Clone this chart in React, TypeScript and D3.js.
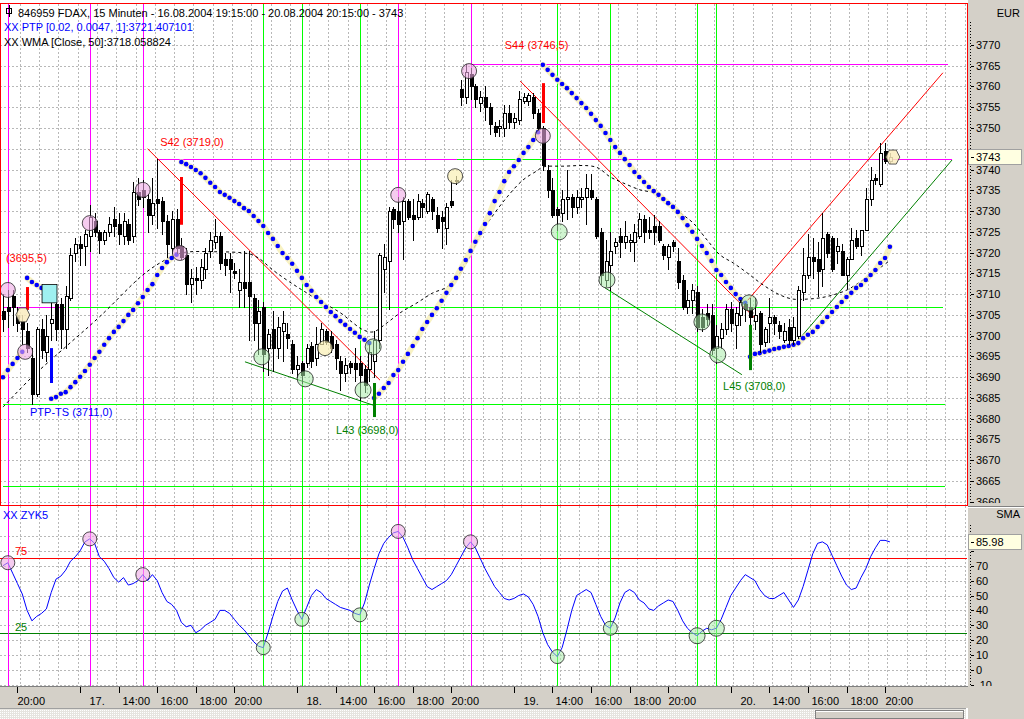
import React from 'react';
import * as d3 from 'd3';

const FONT = "'Liberation Sans', Arial, Helvetica, sans-serif";

// 15-minute bars FDAX 16.08.2004 19:15 .. 20.08.2004 20:15 : [open, high, low, close]
const ohlc: number[][] = [
  [3706, 3710, 3701, 3704], [3707, 3711, 3702, 3706], [3709.5, 3711, 3702.5, 3707], [3705, 3707, 3701, 3703],
  [3703.5, 3705, 3698, 3701.5], [3701, 3703, 3696, 3697], [3694.5, 3697, 3683.5, 3686], [3686, 3702, 3685.5, 3701.5],
  [3701.5, 3704, 3694.5, 3696.5], [3696, 3705, 3694, 3700], [3703, 3711, 3699, 3704], [3707.5, 3709.5, 3699, 3701.5],
  [3707.5, 3709, 3697, 3701.5], [3701.5, 3712, 3697, 3709.5], [3709, 3721, 3708.5, 3719.5], [3720, 3723.5, 3718, 3722],
  [3722, 3724, 3717, 3721], [3721.5, 3725.5, 3717, 3724.5], [3724, 3731.5, 3720.5, 3728.5], [3727.5, 3729.5, 3724, 3725],
  [3725, 3725.5, 3720, 3723], [3723, 3725.5, 3722, 3725], [3725, 3728.5, 3724, 3727], [3728, 3731, 3724, 3726.5],
  [3727, 3729.5, 3722, 3724.5], [3724, 3729.5, 3722, 3727.5], [3727, 3728, 3722, 3723], [3724, 3737, 3722.5, 3734.5],
  [3734.5, 3738, 3731.5, 3733], [3735, 3737.5, 3731, 3733.5], [3733, 3734, 3725, 3729], [3729, 3738, 3727, 3732],
  [3733, 3742.5, 3726, 3732], [3732.5, 3733.5, 3724.5, 3727.5], [3727.5, 3729, 3719, 3722], [3721, 3730, 3720, 3728],
  [3728, 3730.5, 3720, 3721], [3721.5, 3723.5, 3718.5, 3719], [3719.5, 3721, 3710, 3712.5], [3712.5, 3716, 3708, 3714],
  [3714, 3716.5, 3710, 3713.5], [3713.5, 3718.5, 3711.5, 3716.5], [3716, 3721, 3714, 3720], [3720.5, 3725, 3719, 3723],
  [3722.5, 3728, 3721, 3724], [3724, 3725, 3716, 3717.5], [3718.5, 3720, 3714.5, 3717], [3718.5, 3720, 3710.5, 3716],
  [3715.5, 3717.5, 3714, 3715], [3711, 3716, 3707, 3713], [3713, 3720.5, 3707, 3711.5], [3713, 3720.5, 3699, 3709.5],
  [3709, 3710, 3699, 3703], [3703, 3708.5, 3695.5, 3706], [3707, 3708, 3691.5, 3695.5], [3697, 3701.5, 3690.5, 3700.5],
  [3701.5, 3706, 3691.5, 3697], [3697, 3704.5, 3694.5, 3702], [3701, 3706, 3694, 3703], [3700.5, 3703, 3697, 3699.5],
  [3698, 3699, 3691, 3692], [3692, 3695, 3690, 3693], [3693.5, 3694, 3688.5, 3690.5], [3693.5, 3698, 3692.5, 3697],
  [3697.5, 3698.5, 3692.5, 3694], [3694.5, 3702, 3693, 3698], [3698, 3703, 3698, 3701.5], [3701, 3701.5, 3698, 3698.5],
  [3700, 3701, 3696, 3697], [3698, 3699, 3692, 3694.5], [3694, 3695, 3687, 3691], [3691, 3694.5, 3689, 3693],
  [3693.5, 3694, 3691, 3692.5], [3693.5, 3697, 3689, 3692], [3693.5, 3695, 3684.5, 3690.5], [3692, 3693, 3686.5, 3688],
  [3692, 3698, 3689, 3696], [3694, 3701, 3690, 3699], [3699, 3720, 3697, 3719.5], [3716, 3722, 3710.5, 3719],
  [3718, 3731, 3706.5, 3730], [3730.5, 3731, 3726, 3728], [3730, 3733.5, 3725, 3727], [3727.5, 3733.5, 3718.5, 3732.5],
  [3732.5, 3733, 3728, 3728.5], [3729, 3733, 3723, 3728], [3728.5, 3734, 3728, 3732.5], [3732, 3733, 3728.5, 3731],
  [3730, 3734.5, 3729.5, 3734], [3733, 3733.5, 3728, 3730], [3729, 3731, 3725, 3726], [3728.5, 3730, 3721, 3727.5],
  [3726, 3732, 3722, 3731], [3732.5, 3737.5, 3731, 3731.5], [3737.5, 3738.5, 3736.5, 3737.5], [3759.5, 3761.5, 3755.5, 3757.5],
  [3757.5, 3765.5, 3756, 3763.5], [3763, 3764.5, 3757, 3760], [3760, 3760.5, 3755, 3757], [3756, 3759, 3754, 3757.5],
  [3757.5, 3760, 3752, 3755], [3755, 3756, 3748.5, 3751], [3750.5, 3751.5, 3748, 3749], [3750, 3752, 3748, 3750.5],
  [3750, 3755.5, 3748, 3753.5], [3753.5, 3755.5, 3750, 3751.5], [3751.5, 3753.5, 3750, 3752.5], [3752, 3759, 3751, 3757],
  [3756.5, 3758.5, 3756, 3757.5], [3756.5, 3758.5, 3755.5, 3758], [3757.5, 3758.5, 3752.5, 3753.5], [3753.5, 3754.5, 3749.5, 3750],
  [3750, 3750.5, 3740, 3741], [3740, 3741, 3733.5, 3735], [3735, 3738, 3728.5, 3729], [3730.5, 3731, 3725.5, 3729],
  [3729.5, 3735, 3727.5, 3733], [3733, 3740, 3728, 3733.5], [3733.5, 3734, 3728.5, 3731], [3731, 3735, 3729.5, 3733.5],
  [3733, 3735.5, 3731, 3733.5], [3733.5, 3739, 3727, 3735.5], [3735, 3739, 3733, 3733.5], [3733, 3733.5, 3723.5, 3724],
  [3725, 3726, 3712.5, 3714.5], [3713.5, 3723, 3712, 3718], [3717, 3725, 3711, 3720.5], [3721.5, 3723.5, 3720, 3722.5],
  [3724, 3726, 3719, 3722.5], [3722.5, 3727.5, 3721, 3724], [3722.5, 3724.5, 3720.5, 3723], [3722.5, 3727, 3718, 3725],
  [3724, 3729.5, 3723.5, 3728], [3728, 3729, 3722.5, 3725], [3725.5, 3728.5, 3723.5, 3725], [3726.5, 3729, 3722, 3725],
  [3726.5, 3727.5, 3722.5, 3723], [3721.5, 3722, 3718.5, 3719.5], [3719, 3722, 3716, 3721.5], [3722.5, 3723, 3720.5, 3721.5],
  [3718, 3721, 3711.5, 3713], [3713.5, 3714.5, 3706.5, 3707], [3707, 3711, 3705.5, 3708.5], [3708.5, 3712.5, 3705.5, 3711],
  [3710.5, 3712, 3701, 3702], [3704.5, 3706.5, 3701, 3702], [3705.5, 3707.5, 3702.5, 3704], [3705, 3707.5, 3695.5, 3696.5],
  [3697, 3702.5, 3693.5, 3700], [3699.5, 3703, 3697, 3701.5], [3701.5, 3707.5, 3700.5, 3706.5], [3706.5, 3708, 3701, 3703],
  [3702.5, 3707, 3697, 3705.5], [3705, 3708.5, 3702.5, 3708], [3707.5, 3707.8, 3703.5, 3706.5], [3707, 3709, 3702.5, 3704.5],
  [3703.5, 3709, 3701.5, 3705], [3705.5, 3706, 3696, 3698], [3698.5, 3702, 3697.5, 3701.5], [3703, 3709, 3698.5, 3704.5],
  [3704.5, 3705, 3700.5, 3703], [3702.5, 3703.5, 3699.5, 3701], [3699, 3703, 3698.5, 3701], [3702, 3704, 3698, 3699],
  [3699, 3704.5, 3698, 3702], [3700, 3712, 3699.5, 3711], [3710.5, 3721, 3708.5, 3714.5], [3714.5, 3724.5, 3714, 3719],
  [3719, 3723.5, 3714, 3718], [3718.5, 3722.5, 3709.5, 3715.5], [3716, 3729.5, 3712, 3723.5], [3724.5, 3725, 3719, 3720],
  [3723.5, 3724, 3715.5, 3716], [3720.5, 3723.5, 3717.5, 3721.5], [3720.5, 3722, 3714.5, 3714.5], [3714.5, 3719, 3711.5, 3718.5],
  [3718.5, 3726, 3718.5, 3723], [3723.5, 3725.5, 3721, 3721.5], [3721.5, 3725.5, 3719.5, 3725.5], [3725.5, 3735.5, 3725.5, 3733],
  [3733, 3740.5, 3731.5, 3737.5], [3738, 3739, 3736.5, 3737.5], [3736.5, 3746.5, 3736, 3744], [3744.5, 3746.5, 3741.5, 3742],
  [3742, 3744, 3741.5, 3743],
];

// PTP trailing stop, one value per bar; the side flips at the bars listed in ptpFlips
const ptpStop: number[] = [
  3690, 3691.7, 3693.2, 3694.6, 3696.1,
  3713.9, 3712.9, 3712.2, 3711.5, 3710.7,
  3684.8, 3685.2, 3686.0, 3686.4, 3687.6, 3688.8, 3690.1, 3691.5, 3693.0, 3694.6, 3696.1, 3697.8, 3699.4, 3700.9,
  3702.1, 3703.5, 3705.0, 3706.2, 3707.8, 3709.3, 3711.0, 3712.4, 3714.6, 3716.3, 3717.7, 3718.7, 3719.5,
  3741.8, 3741.3, 3740.6, 3739.9, 3739.1, 3738.0, 3736.8, 3735.8, 3734.6, 3733.9, 3733.2, 3732.4, 3731.7, 3730.7,
  3730.0, 3728.8, 3727.6, 3726.4, 3724.7, 3723.3, 3721.6, 3719.9, 3718.7, 3717.3, 3715.6, 3713.9, 3712.2, 3710.8,
  3709.3, 3708.1, 3706.9, 3705.7, 3704.7, 3703.5, 3702.6, 3701.6, 3700.7, 3699.7, 3699.0, 3698.2,
  3685.0, 3686.0, 3687.4, 3688.6, 3690.5, 3691.7, 3693.7, 3695.6, 3697.5, 3699.4, 3701.6, 3703.3, 3705.0, 3706.6,
  3708.4, 3710.3, 3712.2, 3713.9, 3716.1, 3718.2, 3720.4, 3722.6, 3724.7, 3726.9, 3729.5, 3732.4, 3734.6, 3737.2,
  3739.4, 3740.8, 3742.3, 3744.0, 3745.4, 3747.1, 3749.0,
  3765.2, 3764.0, 3762.8, 3761.6, 3760.6, 3759.6, 3758.4, 3757.2, 3756.0, 3754.8, 3753.4, 3751.9, 3750.5, 3748.8,
  3747.1, 3745.4, 3744.0, 3742.5, 3741.1, 3739.4, 3738.2, 3737.0, 3735.8, 3734.8, 3733.9, 3732.9, 3731.9, 3731.0,
  3729.8, 3728.3, 3726.6, 3725.0, 3723.3, 3721.6, 3719.9, 3718.0, 3715.8, 3714.6, 3712.9, 3711.5, 3710.0, 3708.8, 3707.9,
  3694.9, 3695.6, 3695.8, 3696.1, 3696.4, 3696.8, 3697.0, 3697.3, 3697.5, 3697.8, 3698.2, 3699.4, 3700.2, 3700.9,
  3702.1, 3703.3, 3704.5, 3705.7, 3706.9, 3708.1, 3709.3, 3710.3, 3711.5, 3712.2, 3713.4, 3714.6, 3715.8, 3717.5,
  3718.7, 3721.4,
];
const ptpFlips = [5, 10, 37, 77, 112, 155];

// WMA(Close, 50): [bar, value]
const wmaPoints: number[][] = [
  [0, 3682.8], [6, 3690], [13, 3697.3], [20, 3704.5], [29, 3714.6], [33, 3717.8], [37, 3719.9], [44, 3720.2],
  [51, 3719.7], [53, 3718.7], [56, 3715.8], [59.5, 3712.9], [63, 3710.3], [66.4, 3707.9], [70, 3705.5], [72.6, 3703.1],
  [74.7, 3701.4], [76.8, 3700.9], [79.7, 3703.1], [82.4, 3705.5], [85.9, 3707.9], [89.2, 3710.3], [92.1, 3711.7],
  [94.8, 3715.1], [96.9, 3719.0], [99, 3724.3], [101, 3727.9], [104.6, 3733.4], [107.9, 3737.5], [110.8, 3739.7],
  [112, 3740.6], [116, 3740.8], [123, 3740.6], [126, 3738.2], [128.6, 3736.8], [132.2, 3735.1], [134.9, 3734.4],
  [137.8, 3732.2], [140.5, 3729.6], [143.2, 3727.1], [146.1, 3723.0], [148.8, 3719.4], [151.5, 3717.5], [154.4, 3715.1],
  [157.7, 3712.2], [161.2, 3709.8], [163.9, 3708.8], [166.8, 3708.8], [169.5, 3709.1], [172.2, 3709.8], [175.1, 3711.0],
  [177.8, 3712.9], [180.5, 3715.1], [184, 3718.1],
];

// ZYK5 oscillator, one value per bar
const zyk5: number[] = [
  70, 72, 65, 58, 51, 40, 33, 36, 38, 41, 52, 61, 63, 67, 73, 76, 80, 86, 88, 85,
  76, 73, 68, 62, 59, 62, 57, 58, 60, 64, 60, 64, 60, 52, 46, 44, 40, 32, 29, 30,
  25, 27, 30, 32, 34, 40, 40, 38, 34, 30, 27, 23, 19, 16, 15, 25, 36, 46, 53, 55,
  47, 40, 34, 42, 50, 54, 52, 48, 46, 44, 42, 41, 40, 38, 37, 45, 57, 68, 78, 85,
  89, 92, 93, 89, 82, 74, 68, 62, 56, 54, 56, 58, 60, 64, 70, 76, 82, 86, 82, 75,
  68, 62, 56, 52, 48, 47, 48, 50, 51, 49, 44, 36, 25, 17, 12, 9, 15, 27, 40, 50,
  52, 54, 52, 44, 36, 30, 28, 35, 45, 52, 54, 52, 47, 45, 41, 40, 43, 45, 47, 46,
  40, 33, 28, 25, 23, 26, 28, 27, 28, 34, 42, 50, 55, 60, 64, 62, 60, 54, 50, 48,
  48, 50, 52, 47, 42, 47, 56, 67, 78, 85, 86, 84, 77, 70, 63, 57, 54, 55, 62, 68,
  76, 82, 87, 87, 86,
];

const magentaCycles = [1, 18, 29, 82, 97];
const greenCycles = [54, 62, 74, 115, 126, 144, 148];

const priceTicks = d3.range(3660, 3775, 5);
const oscTicks = d3.range(-10, 95, 10);
const timeTickBars = [3, 16, 24, 32, 40, 48, 61, 69, 77, 85, 93, 106, 114, 122, 130, 138, 151, 159, 167, 175, 183];
const timeTickLabels = ['20:00', '17.', '14:00', '16:00', '18:00', '20:00', '18.', '14:00', '16:00', '18:00', '20:00',
  '19.', '14:00', '16:00', '18:00', '20:00', '20.', '14:00', '16:00', '18:00', '20:00'];

// trend lines [bar1, price1, bar2, price2]
const redTrend = [[30, 3745, 78.2, 3689.3], [107.3, 3761.3, 156, 3704.2], [154.5, 3708.5, 195, 3763.3]];
const greenTrend = [[50.2, 3693.7, 77.2, 3683.1], [124.9, 3711.5, 153.3, 3690.6], [164.7, 3698.5, 196.9, 3742.3]];
// level lines [price, fromBar, toBar, kind]
const levelLines: [number, number, number, string][] = [
  [3742.5, 32, 196.9, 'm'], [3765.5, 97.3, 196, 'm'], [3707, 0, 12.2, 'm'], [3707, 12.2, 195, 'g'],
  [3742.5, 94.2, 112, 'g'], [3683.5, 0, 195.5, 'g'], [3663.7, 0, 195.5, 'g'], [3707, 144, 155, 'm'],
];
// signal bars [bar, price1, price2, kind]
const signalBars: [number, number, number, string][] = [
  [5, 3711.7, 3706.2, 'S'], [10, 3697, 3688.6, 'T'], [37, 3738.2, 3726.7, 'S'],
  [77, 3688.6, 3680.4, 'L'], [112, 3760.8, 3751.2, 'S'], [155, 3702.6, 3691.7, 'L'],
];
const signalLabels: [string, number, number, string][] = [
  ['(3695,5)', 0.6, 3717.7, 'S'], ['PTP-TS (3711,0)', 5.6, 3680.7, 'T'], ['S42 (3719,0)', 32.6, 3745.7, 'S'],
  ['L43 (3698,0)', 69.1, 3676.3, 'L'], ['S44 (3746,5)', 104.1, 3769.0, 'S'], ['L45 (3708,0)', 149.4, 3686.9, 'L'],
];
// markers on the price panel [bar, price, kind]
const priceMarkers: [number, number, string][] = [
  [1, 3711, 'hi'], [4.6, 3696.1, 'hi'], [18, 3727.1, 'hi'], [29, 3735.1, 'hi'], [36.7, 3719.9, 'hi'],
  [82, 3733.9, 'hi'], [96.7, 3763.7, 'hi'], [112, 3748.1, 'hi'],
  [53.7, 3694.9, 'lo'], [62.7, 3689.6, 'lo'], [74.7, 3686.9, 'lo'], [76.8, 3697.3, 'lo'], [115.4, 3725, 'lo'],
  [125.3, 3713.4, 'lo'], [145, 3703.3, 'lo'], [148.3, 3695.4, 'lo'], [154.8, 3707.9, 'lo'],
  [66.8, 3697, 'mid'], [93.8, 3738.4, 'mid'], [4.1, 3705, 'dia'], [184.6, 3743, 'dia'],
];
const cyanBox = [8.1, 3712.3, 11.2, 3707.9];

const lastPrice = 3743;
const lastOsc = 85.98;

const BG_GRAY = '#d4d0c8';
const MAG = '#ff00ff';
const LIME = '#00ff00';
const RED = '#ff0000';
const DKGREEN = '#008000';
const BLUE = '#0000ff';
const kindColor: Record<string, string> = { S: RED, T: BLUE, L: DKGREEN, m: MAG, g: LIME };

export default function App() {
  const x = d3.scaleLinear().domain([0, 184]).range([3, 3 + 184 * 4.82]);
  const yP = d3.scaleLinear().domain([3665, 3765]).range([481, 65.7]);
  const yO = d3.scaleLinear().domain([0, 70]).range([670, 565.7]);

  const gridBars = d3.range(3.5, 200, 4);
  const segStarts = [0, ...ptpFlips];
  const segments = segStarts.map((s, k) => {
    const e = k + 1 < segStarts.length ? segStarts[k + 1] : ptpStop.length;
    return d3.range(s, e).map((i) => [i, ptpStop[i]]);
  });
  const ptpLine = d3.line<number[]>().x((d) => x(d[0])).y((d) => yP(d[1]));
  const wmaLine = d3.line<number[]>().x((d) => x(d[0])).y((d) => yP(d[1])).curve(d3.curveCatmullRom);
  const oscLine = d3.line<number>().x((_, i) => x(i)).y((d) => yO(d));

  const markerFill: Record<string, string> = {
    hi: 'rgba(238,170,228,0.6)', lo: 'rgba(170,235,170,0.55)', mid: 'rgba(250,240,180,0.7)', dia: 'rgba(250,236,190,0.85)',
  };

  const pBoxY = Math.round(yP(lastPrice)) - 7.5;
  const oBoxY = Math.round(yO(lastOsc)) - 7.5;
  // axis labels that would sit under the last-value boxes are left out; the box shows the value there
  const visiblePriceTicks = priceTicks.filter((v) => Math.abs(yP(v) - yP(lastPrice)) > 11);
  const visibleOscTicks = oscTicks.filter((v) => Math.abs(yO(v) - yO(lastOsc)) > 11);

  return (
    <div style={{ position: 'absolute', left: 0, top: 0 }}>
      <svg width={1024} height={719} style={{ display: 'block', fontFamily: FONT }}>
        <defs>
          <clipPath id="pclip"><rect x={1} y={4} width={966} height={501} /></clipPath>
          <clipPath id="oclip"><rect x={0} y={506} width={967} height={180} /></clipPath>
          <clipPath id="paxis"><rect x={968} y={21} width={56} height={482} /></clipPath>
          <clipPath id="oaxis"><rect x={968} y={524} width={56} height={162} /></clipPath>
          <pattern id="hatch" width="2" height="2" patternUnits="userSpaceOnUse">
            <rect width="2" height="2" fill="#e6e4df" />
            <rect width="1" height="1" fill="#ffffff" />
          </pattern>
        </defs>
        <rect x={0} y={0} width={1024} height={719} fill="#fff" />

        {/* grid price panel */}
        <g clipPath="url(#pclip)" stroke="#b8b8b8" strokeDasharray="2,2" shapeRendering="crispEdges">
          {priceTicks.map((v) => (
            <line key={'hp' + v} x1={0} x2={967} y1={Math.round(yP(v)) + 0.5} y2={Math.round(yP(v)) + 0.5} />
          ))}
          {gridBars.map((b) => (
            <line key={'vp' + b} x1={Math.round(x(b)) + 0.5} x2={Math.round(x(b)) + 0.5} y1={4} y2={505} />
          ))}
        </g>
        {/* grid oscillator panel */}
        <g clipPath="url(#oclip)" stroke="#b8b8b8" strokeDasharray="2,2" shapeRendering="crispEdges">
          {oscTicks.map((v) => (
            <line key={'ho' + v} x1={0} x2={967} y1={Math.round(yO(v)) + 0.5} y2={Math.round(yO(v)) + 0.5} />
          ))}
          {gridBars.map((b) => (
            <line key={'vo' + b} x1={Math.round(x(b)) + 0.5} x2={Math.round(x(b)) + 0.5} y1={506} y2={686} />
          ))}
        </g>

        {/* oscillator bands */}
        <g shapeRendering="crispEdges">
          <line x1={0} x2={967} y1={Math.round(yO(75)) + 0.5} y2={Math.round(yO(75)) + 0.5} stroke={RED} />
          <line x1={0} x2={967} y1={Math.round(yO(25)) + 0.5} y2={Math.round(yO(25)) + 0.5} stroke={DKGREEN} />
        </g>

        {/* cycle vertical lines */}
        <g shapeRendering="crispEdges">
          {magentaCycles.map((b) => (
            <line key={'mc' + b} x1={Math.round(x(b)) + 0.5} x2={Math.round(x(b)) + 0.5} y1={3} y2={686} stroke={MAG} />
          ))}
          {greenCycles.map((b) => (
            <line key={'gc' + b} x1={Math.round(x(b)) + 0.5} x2={Math.round(x(b)) + 0.5} y1={3} y2={686} stroke={LIME} />
          ))}
        </g>

        <g clipPath="url(#pclip)">
          {/* level lines */}
          <g shapeRendering="crispEdges">
            {levelLines.map((l, k) => (
              <line key={'lv' + k} x1={x(l[1])} x2={x(l[2])} y1={Math.round(yP(l[0])) + 0.5} y2={Math.round(yP(l[0])) + 0.5}
                stroke={kindColor[l[3]]} />
            ))}
          </g>
          {/* trend lines */}
          {redTrend.map((t, k) => (
            <line key={'rt' + k} x1={x(t[0])} y1={yP(t[1])} x2={x(t[2])} y2={yP(t[3])} stroke={RED} strokeWidth={1} />
          ))}
          {greenTrend.map((t, k) => (
            <line key={'gt' + k} x1={x(t[0])} y1={yP(t[1])} x2={x(t[2])} y2={yP(t[3])} stroke={DKGREEN} strokeWidth={1} />
          ))}
          {/* WMA */}
          <path d={wmaLine(wmaPoints) || ''} fill="none" stroke="#000" strokeWidth={1} strokeDasharray="3,3" />
          {/* PTP halo + dots */}
          {segments.map((s, k) => (
            <path key={'ph' + k} d={ptpLine(s) || ''} fill="none" stroke="#f6efb4" strokeWidth={6} strokeLinecap="round" opacity={0.8} />
          ))}
          {ptpStop.map((v, i) => (
            <circle key={'pd' + i} cx={x(i)} cy={yP(v)} r={2.3} fill={BLUE} />
          ))}
          {/* candles */}
          {ohlc.map((d, i) => {
            const [o, h, l, c] = d;
            const cx = Math.round(x(i)) + 0.5;
            const up = c >= o;
            const top = Math.round(yP(Math.max(o, c))) + 0.5;
            const bot = Math.round(yP(Math.min(o, c))) + 0.5;
            return (
              <g key={'c' + i} shapeRendering="crispEdges">
                <line x1={cx} x2={cx} y1={Math.round(yP(h))} y2={Math.round(yP(l)) + 1} stroke="#000" />
                <rect x={cx - 1.5} y={top} width={3} height={Math.max(1, bot - top)} fill={up ? '#fff' : '#000'} stroke="#000" />
              </g>
            );
          })}
          {/* signal bars */}
          {signalBars.map((s, k) => (
            <rect key={'sb' + k} x={Math.round(x(s[0])) - 1} y={yP(s[1])} width={3} height={yP(s[2]) - yP(s[1])} fill={kindColor[s[3]]} />
          ))}
          {/* cyan box */}
          <rect x={x(cyanBox[0])} y={yP(cyanBox[1])} width={x(cyanBox[2]) - x(cyanBox[0])} height={yP(cyanBox[3]) - yP(cyanBox[1])}
            fill="#9ff0f0" stroke="#000" strokeWidth={0.8} />
          {/* markers */}
          {priceMarkers.map((m, k) => {
            const cx = x(m[0]);
            const cy = yP(m[1]);
            if (m[2] === 'dia') {
              const r = 7;
              return (
                <polygon key={'pm' + k} points={`${cx - r},${cy} ${cx - r / 2},${cy - r} ${cx + r / 2},${cy - r} ${cx + r},${cy} ${cx + r / 2},${cy + r} ${cx - r / 2},${cy + r}`}
                  fill={markerFill.dia} stroke="#333" strokeWidth={0.8} />
              );
            }
            const r = m[2] === 'lo' ? 8 : 7.5;
            return <circle key={'pm' + k} cx={cx} cy={cy} r={r} fill={markerFill[m[2]]} stroke="#222" strokeWidth={0.8} />;
          })}
          {/* labels */}
          {signalLabels.map((s, k) => (
            <text key={'sl' + k} x={x(s[1])} y={yP(s[2])} fontSize={11} fill={kindColor[s[3]]}>{s[0]}</text>
          ))}
        </g>

        {/* oscillator */}
        <g clipPath="url(#oclip)">
          <path d={oscLine(zyk5) || ''} fill="none" stroke={BLUE} strokeWidth={1} />
          {magentaCycles.map((b) => (
            <circle key={'om' + b} cx={x(b)} cy={yO(zyk5[b])} r={7} fill="rgba(238,170,228,0.6)" stroke="#222" strokeWidth={0.8} />
          ))}
          {greenCycles.map((b) => (
            <circle key={'og' + b} cx={x(b)} cy={yO(zyk5[b])} r={b >= 144 ? 8 : 7} fill="rgba(170,235,170,0.55)" stroke="#222" strokeWidth={0.8} />
          ))}
          <text x={3} y={519} fontSize={11} fill={BLUE}>XX  ZYK5</text>
          <text x={15} y={yO(75) - 3} fontSize={11} fill={RED}>75</text>
          <text x={15} y={yO(25) - 2} fontSize={11} fill={DKGREEN}>25</text>
        </g>

        {/* price panel border */}
        <rect x={0.5} y={3.5} width={966.5} height={501.5} fill="none" stroke={RED} strokeWidth={1} shapeRendering="crispEdges" />

        {/* right axis strip */}
        <rect x={968} y={0} width={56} height={719} fill={BG_GRAY} />
        <line x1={968} x2={1024} y1={506.5} y2={506.5} stroke="#808080" shapeRendering="crispEdges" />
        <line x1={968} x2={1024} y1={507.5} y2={507.5} stroke="#fff" shapeRendering="crispEdges" />
        <text x={1020} y={17} fontSize={11} textAnchor="end" fill="#000">EUR</text>
        <text x={1020} y={518} fontSize={11} textAnchor="end" fill="#000">SMA</text>
        <line x1={970.5} x2={970.5} y1={22} y2={504} stroke="#000" strokeDasharray="1,2" shapeRendering="crispEdges" />
        <line x1={970.5} x2={970.5} y1={525} y2={686} stroke="#000" strokeDasharray="1,2" shapeRendering="crispEdges" />
        <g clipPath="url(#paxis)">
          {priceTicks.map((v) => (
            <line key={'ptm' + v} x1={971} x2={974} y1={Math.round(yP(v)) + 0.5} y2={Math.round(yP(v)) + 0.5} stroke="#000" shapeRendering="crispEdges" />
          ))}
          {visiblePriceTicks.map((v) => (
            <text key={'pt' + v} x={976} y={yP(v) + 4} fontSize={11} fill="#000">{v}</text>
          ))}
        </g>
        <g clipPath="url(#oaxis)">
          {oscTicks.map((v) => (
            <line key={'otm' + v} x1={971} x2={974} y1={Math.round(yO(v)) + 0.5} y2={Math.round(yO(v)) + 0.5} stroke="#000" shapeRendering="crispEdges" />
          ))}
          {visibleOscTicks.map((v) => (
            <text key={'ot' + v} x={976} y={yO(v) + 4} fontSize={11} fill="#000">{v}</text>
          ))}
        </g>
        {/* last value boxes */}
        <rect x={968.5} y={pBoxY} width={53} height={15} fill="#ffffe1" stroke="#a0a0a0" shapeRendering="crispEdges" />
        <line x1={971} x2={974} y1={pBoxY + 8} y2={pBoxY + 8} stroke="#000" shapeRendering="crispEdges" />
        <text x={976} y={yP(lastPrice) + 4} fontSize={11} fill="#000">{lastPrice}</text>
        <rect x={968.5} y={oBoxY} width={53} height={15} fill="#ffffe1" stroke="#a0a0a0" shapeRendering="crispEdges" />
        <line x1={971} x2={974} y1={oBoxY + 8} y2={oBoxY + 8} stroke="#000" shapeRendering="crispEdges" />
        <text x={976} y={yO(lastOsc) + 4} fontSize={11} fill="#000">{lastOsc.toFixed(2)}</text>

        {/* x axis band */}
        <rect x={0} y={686} width={968} height={22} fill={BG_GRAY} />
        <line x1={0} x2={968} y1={686.5} y2={686.5} stroke="#808080" shapeRendering="crispEdges" />
        {timeTickBars.map((b, k) => {
          const tx = Math.round(x(b)) + 0.5;
          const lbl = timeTickLabels[k];
          const off = lbl.endsWith('.') ? 9 : lbl.startsWith('1') ? 3 : 0;
          return (
            <g key={'xt' + k}>
              <line x1={tx} x2={tx} y1={687} y2={693} stroke="#000" shapeRendering="crispEdges" />
              <text x={tx + off} y={705} fontSize={11} fill="#000">{lbl}</text>
            </g>
          );
        })}
        {/* scroll bar */}
        <rect x={0} y={708} width={966} height={11} fill="url(#hatch)" />
        <line x1={0} x2={966} y1={708.5} y2={708.5} stroke="#a0a0a0" shapeRendering="crispEdges" />
        <rect x={815.5} y={710.5} width={148} height={8} fill={BG_GRAY} stroke="#808080" shapeRendering="crispEdges" />
        <line x1={816} x2={963} y1={711.5} y2={711.5} stroke="#fff" shapeRendering="crispEdges" />

        {/* title */}
        <g>
          <rect x={6.5} y={8.5} width={5} height={5} fill="none" stroke="#000" shapeRendering="crispEdges" />
          <line x1={9} x2={9} y1={5} y2={17} stroke="#000" shapeRendering="crispEdges" />
          <text x={18} y={17} fontSize={11} fill="#000">846959  FDAX, 15 Minuten - 16.08.2004 19:15:00 - 20.08.2004 20:15:00 - 3743</text>
          <text x={4} y={31} fontSize={11} fill={BLUE}>XX PTP [0.02, 0.0047, 1]:3721.407101</text>
          <text x={4} y={45.5} fontSize={11} fill="#000">XX WMA [Close, 50]:3718.058824</text>
        </g>
      </svg>
    </div>
  );
}
